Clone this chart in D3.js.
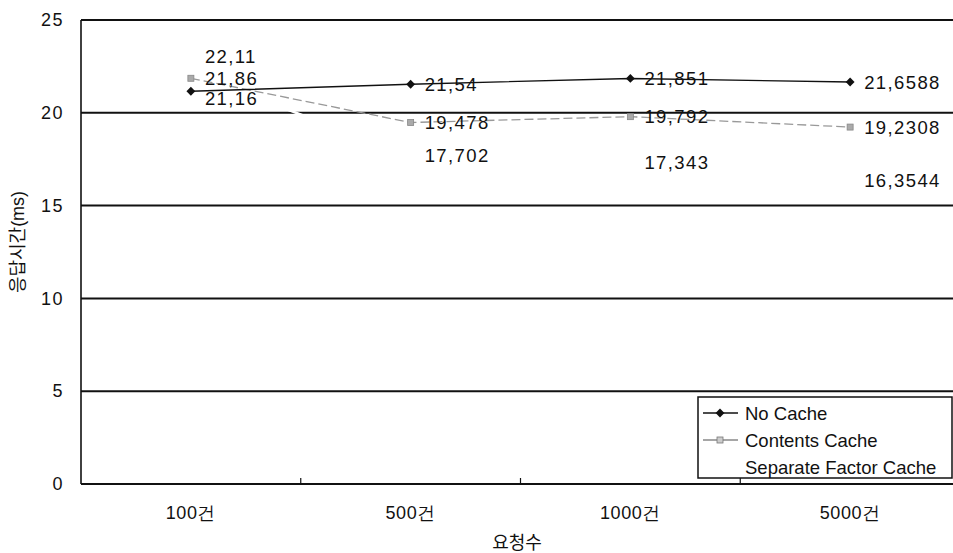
<!DOCTYPE html>
<html>
<head>
<meta charset="utf-8">
<script src="https://cdn.jsdelivr.net/npm/d3@7/dist/d3.min.js"></script>
<style>
  html, body { margin: 0; padding: 0; background: #fff; }
  svg { display: block; font-family: "Liberation Sans", Arial, "Noto Sans CJK KR", sans-serif; }
</style>
</head>
<body>
<svg id="chart" width="953" height="553"></svg>
<script>
// Response time (ms) by number of requests, for three cache strategies
const categories = ["100건", "500건", "1000건", "5000건"];
const noCache = [21.16, 21.54, 21.851, 21.6588];
const contentsCache = [21.86, 19.478, 19.792, 19.2308];
const separateFactorCache = [22.11, 17.702, 17.343, 16.3544];
const yTicks = [0, 5, 10, 15, 20, 25];
const seriesNames = ["No Cache", "Contents Cache", "Separate Factor Cache"];
const xTitle = "요청수";
const yTitle = "응답시간(ms)";

const svg = d3.select("#chart");
const plotLeft = 81, plotRight = 960, plotTop = 20, plotBottom = 484;

const x = d3.scaleBand().domain(categories).range([plotLeft, plotRight]);
const cx = c => x(c) + x.bandwidth() / 2;
const y = d3.scaleLinear().domain([0, 25]).range([plotBottom, plotTop]);

// horizontal gridlines
svg.append("g").selectAll("line")
  .data(yTicks.filter(t => t > 0))
  .join("line")
  .attr("x1", plotLeft).attr("x2", plotRight)
  .attr("y1", d => y(d)).attr("y2", d => y(d))
  .attr("stroke", "#111").attr("stroke-width", 2);

// y axis
const yAxis = svg.append("g")
  .attr("transform", `translate(${plotLeft},0)`)
  .call(d3.axisLeft(y).tickValues(yTicks).tickSize(0).tickPadding(17));
yAxis.select(".domain").remove();
yAxis.selectAll("text")
  .attr("font-size", 18).attr("fill", "#111")
  .attr("font-family", "Liberation Sans, Arial, sans-serif")
  .style("letter-spacing", "1.5px");
svg.append("line")
  .attr("x1", plotLeft).attr("x2", plotLeft).attr("y1", plotTop).attr("y2", plotBottom)
  .attr("stroke", "#111").attr("stroke-width", 1.6);

// x axis
const xAxis = svg.append("g")
  .attr("transform", `translate(0,${plotBottom})`)
  .call(d3.axisBottom(x).tickSize(0).tickPadding(22));
xAxis.select(".domain").remove();
xAxis.selectAll("text")
  .attr("font-size", 18).attr("fill", "#111")
  .style("letter-spacing", "0.5px");
svg.append("line")
  .attr("x1", plotLeft).attr("x2", plotRight).attr("y1", plotBottom).attr("y2", plotBottom)
  .attr("stroke", "#111").attr("stroke-width", 2);
svg.append("g").selectAll("line")
  .data(categories.slice(1))
  .join("line")
  .attr("x1", d => x(d)).attr("x2", d => x(d))
  .attr("y1", plotBottom).attr("y2", plotBottom - 6)
  .attr("stroke", "#111").attr("stroke-width", 1.2);

// axis titles
svg.append("text")
  .attr("x", (plotLeft + 953) / 2).attr("y", 549)
  .attr("text-anchor", "middle").attr("font-size", 18).attr("fill", "#111")
  .text(xTitle);
svg.append("text")
  .attr("transform", "translate(24,242) rotate(-90)")
  .attr("text-anchor", "middle").attr("font-size", 18).attr("fill", "#111")
  .text(yTitle);

const line = d3.line().x((d, i) => cx(categories[i])).y(d => y(d));

// Separate Factor Cache: drawn in white
svg.append("path").datum(separateFactorCache)
  .attr("d", line).attr("fill", "none")
  .attr("stroke", "#fff").attr("stroke-width", 2.5);

// Contents Cache: grey dashed line with square markers
svg.append("path").datum(contentsCache)
  .attr("d", line).attr("fill", "none")
  .attr("stroke", "#999").attr("stroke-width", 1.3)
  .attr("stroke-dasharray", "9,4");
svg.append("g").selectAll("rect")
  .data(contentsCache)
  .join("rect")
  .attr("x", (d, i) => cx(categories[i]) - 3)
  .attr("y", d => y(d) - 3)
  .attr("width", 6).attr("height", 6)
  .attr("fill", "#aaa").attr("stroke", "#888").attr("stroke-width", 0.8);

// No Cache: solid black line with diamond markers
svg.append("path").datum(noCache)
  .attr("d", line).attr("fill", "none")
  .attr("stroke", "#111").attr("stroke-width", 1.4);
const diamond = d3.symbol().type(d3.symbolDiamond2).size(50);
svg.append("g").selectAll("path")
  .data(noCache)
  .join("path")
  .attr("d", diamond)
  .attr("transform", (d, i) => `translate(${cx(categories[i])},${y(d)})`)
  .attr("fill", "#111");

// value labels; the three labels at the first category are spread apart
const fmt = v => String(v).replace(".", ",");
function nudge(series, i) {
  if (i !== 0) return 0;
  if (series === 2) return -17;
  if (series === 0) return 7;
  return 0;
}
const allSeries = [noCache, contentsCache, separateFactorCache];
allSeries.forEach((vals, s) => {
  svg.append("g").selectAll("text")
    .data(vals)
    .join("text")
    .attr("x", (d, i) => cx(categories[i]) + 14)
    .attr("y", (d, i) => y(d) + nudge(s, i))
    .attr("dy", "0.36em")
    .attr("font-size", 18.5).attr("fill", "#111")
    .style("letter-spacing", "1.4px")
    .text(d => fmt(d));
});

// legend
const lg = svg.append("g");
lg.append("rect")
  .attr("x", 698).attr("y", 397).attr("width", 254).attr("height", 81)
  .attr("fill", "#fff").attr("stroke", "#111").attr("stroke-width", 1.5);
const rowY = [413, 440, 467];
seriesNames.forEach((name, k) => {
  if (k === 0) {
    lg.append("line").attr("x1", 703).attr("x2", 738).attr("y1", rowY[k]).attr("y2", rowY[k])
      .attr("stroke", "#111").attr("stroke-width", 1.4);
    lg.append("path").attr("d", diamond).attr("transform", `translate(720,${rowY[k]})`).attr("fill", "#111");
  } else if (k === 1) {
    lg.append("line").attr("x1", 703).attr("x2", 738).attr("y1", rowY[k]).attr("y2", rowY[k])
      .attr("stroke", "#888").attr("stroke-width", 1.3);
    lg.append("rect").attr("x", 717).attr("y", rowY[k] - 3).attr("width", 6).attr("height", 6)
      .attr("fill", "#ccc").attr("stroke", "#777").attr("stroke-width", 0.8);
  }
  lg.append("text")
    .attr("x", 745).attr("y", rowY[k]).attr("dy", "0.36em")
    .attr("font-size", 18.5).attr("fill", "#111")
    .text(name);
});
</script>
</body>
</html>
